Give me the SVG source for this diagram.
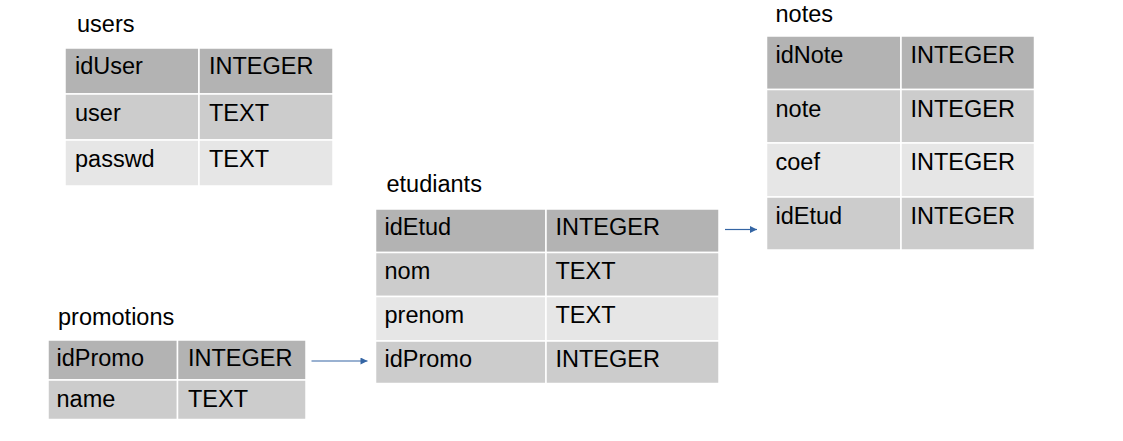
<svg xmlns="http://www.w3.org/2000/svg" width="1123" height="441" viewBox="0 0 1123 441">
<style>
text{font-family:"Liberation Sans",Arial,sans-serif;font-size:23.5px;fill:#000}
.h{fill:#b3b3b3;stroke:#fff;stroke-width:1.5}
.m{fill:#cccccc;stroke:#fff;stroke-width:1.5}
.l{fill:#e6e6e6;stroke:#fff;stroke-width:1.5}
.c{stroke:#3465a4;stroke-width:1.2;fill:none}
</style>
<defs>
<marker id="ar" viewBox="0 0 10 10" refX="10" refY="5" markerWidth="8" markerHeight="7" markerUnits="userSpaceOnUse" orient="auto">
<path d="M0,0L10,5L0,10z" fill="#3465a4"/>
</marker>
</defs>
<rect width="1123" height="441" fill="#fff"/>
<g id="users">
<text x="77" y="32">users</text>
<rect class="h" x="65" y="48" width="134" height="46"/><rect class="h" x="199" y="48" width="134" height="46"/>
<rect class="m" x="65" y="94" width="134" height="46"/><rect class="m" x="199" y="94" width="134" height="46"/>
<rect class="l" x="65" y="140" width="134" height="46"/><rect class="l" x="199" y="140" width="134" height="46"/>
<text x="75" y="74">idUser</text><text x="209" y="74">INTEGER</text>
<text x="75" y="120.5">user</text><text x="209" y="120.5">TEXT</text>
<text x="75" y="166.5">passwd</text><text x="209" y="166.5">TEXT</text>
</g>
<g id="notes">
<text x="775.5" y="22">notes</text>
<rect class="h" x="766.5" y="36" width="134.5" height="53.5"/><rect class="h" x="901" y="36" width="133.5" height="53.5"/>
<rect class="m" x="766.5" y="89.5" width="134.5" height="53.5"/><rect class="m" x="901" y="89.5" width="133.5" height="53.5"/>
<rect class="l" x="766.5" y="143" width="134.5" height="54"/><rect class="l" x="901" y="143" width="133.5" height="54"/>
<rect class="m" x="766.5" y="197" width="134.5" height="53"/><rect class="m" x="901" y="197" width="133.5" height="53"/>
<text x="775.5" y="62.5">idNote</text><text x="910.5" y="62.5">INTEGER</text>
<text x="775.5" y="116.5">note</text><text x="910.5" y="116.5">INTEGER</text>
<text x="775.5" y="170">coef</text><text x="910.5" y="170">INTEGER</text>
<text x="775.5" y="223.5">idEtud</text><text x="910.5" y="223.5">INTEGER</text>
</g>
<g id="etudiants">
<text x="386.5" y="192">etudiants</text>
<rect class="h" x="375.5" y="209" width="170.5" height="43.5"/><rect class="h" x="546" y="209" width="173" height="43.5"/>
<rect class="m" x="375.5" y="252.5" width="170.5" height="44"/><rect class="m" x="546" y="252.5" width="173" height="44"/>
<rect class="l" x="375.5" y="296.5" width="170.5" height="44.5"/><rect class="l" x="546" y="296.5" width="173" height="44.5"/>
<rect class="m" x="375.5" y="341" width="170.5" height="42.5"/><rect class="m" x="546" y="341" width="173" height="42.5"/>
<text x="384.5" y="235">idEtud</text><text x="555.5" y="235">INTEGER</text>
<text x="384.5" y="279">nom</text><text x="555.5" y="279">TEXT</text>
<text x="384.5" y="323">prenom</text><text x="555.5" y="323">TEXT</text>
<text x="384.5" y="366.5">idPromo</text><text x="555.5" y="366.5">INTEGER</text>
</g>
<g id="promotions">
<text x="58" y="325">promotions</text>
<rect class="h" x="48" y="340" width="129.5" height="40"/><rect class="h" x="177.5" y="340" width="128.5" height="40"/>
<rect class="m" x="48" y="380" width="129.5" height="39.5"/><rect class="m" x="177.5" y="380" width="128.5" height="39.5"/>
<text x="56.5" y="366">idPromo</text><text x="188" y="366">INTEGER</text>
<text x="56.5" y="406.5">name</text><text x="188" y="406.5">TEXT</text>
</g>
<g id="connectors">
<path class="c" d="M311.5,361H367.5" marker-end="url(#ar)"/>
<path class="c" d="M725,229.5H757" marker-end="url(#ar)"/>
</g>
</svg>
